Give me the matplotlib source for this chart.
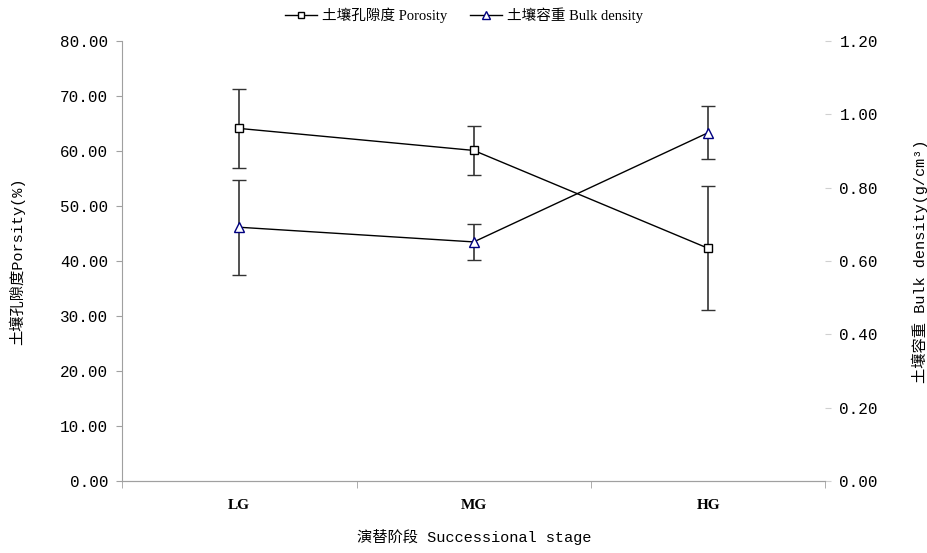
import numpy as np
import matplotlib.pyplot as plt
from matplotlib.ticker import FormatStrFormatter

plt.rcParams['font.family'] = ['Liberation Serif', 'Noto Sans CJK SC', 'DejaVu Sans']

# data
stages = ['LG', 'MG', 'HG']
porosity = [64.1, 60.1, 42.3]
porosity_err = [7.2, 4.5, 11.3]
bulk = [0.692, 0.652, 0.950]
bulk_err = [0.130, 0.050, 0.072]

mono = ['Liberation Mono', 'Noto Sans CJK SC']
axis_grey = '#a0a0a0'

fig = plt.figure(figsize=(9.28, 5.53), dpi=100)
ax = fig.add_axes([0.1315, 0.1302, 0.758, 0.7957])
ax2 = ax.twinx()

x = np.arange(1, len(stages) + 1)

ax.errorbar(x, porosity, yerr=porosity_err, color='black', lw=1.0,
            marker='s', ms=6, mfc='white', mec='black', mew=1.0,
            ecolor='#333333', elinewidth=1.2, capsize=5, capthick=1.5, zorder=3)
ax2.errorbar(x, bulk, yerr=bulk_err, color='black', lw=1.0,
             marker='^', ms=6.5, mfc='white', mec='#000080', mew=1.0,
             ecolor='#333333', elinewidth=1.2, capsize=5, capthick=1.5, zorder=3)

ax.set_xlim(0.5, 3.5)
ax.set_ylim(0, 80)
ax2.set_ylim(0, 1.2)
ax.set_yticks(np.arange(0, 81, 10))
ax2.set_yticks(np.arange(0, 1.21, 0.2))
ax.yaxis.set_major_formatter(FormatStrFormatter('%.2f'))
ax2.yaxis.set_major_formatter(FormatStrFormatter('%.2f'))

ax.set_xticks(x)
ax.set_xticklabels(stages, fontsize=11, fontweight='bold', family='Liberation Serif')
ax.set_xticks([0.5, 1.5, 2.5, 3.5], minor=True)
ax.tick_params(axis='x', which='major', length=0, pad=13)
ax.tick_params(axis='x', which='minor', length=5, color=axis_grey, direction='out')

ax.tick_params(axis='y', length=4, color=axis_grey, pad=6)
ax2.tick_params(axis='y', length=4, color='#d0d0d0', pad=6)
for lab in ax.get_yticklabels() + ax2.get_yticklabels():
    lab.set_family(mono)
    lab.set_fontsize(11.5)

for a in (ax, ax2):
    a.spines['top'].set_visible(False)
    a.spines['right'].set_visible(False)
    a.spines['left'].set_color(axis_grey)
    a.spines['bottom'].set_color(axis_grey)
ax2.spines['left'].set_visible(False)

ax.set_ylabel('土壤孔隙度Porsity(%)', family=mono, fontsize=11, labelpad=25)
ax2.set_ylabel('土壤容重 Bulk density(g/cm³)', family=mono, fontsize=11, labelpad=24,
               rotation=90)
ax.set_xlabel('演替阶段 Successional stage', family=mono, fontsize=11, labelpad=12)

h1 = plt.Line2D([], [], color='black', lw=1.0, marker='s', ms=5, mfc='white', mec='black')
h2 = plt.Line2D([], [], color='black', lw=1.0, marker='^', ms=5.5, mfc='white', mec='#000080')
fig.legend([h1, h2], ['土壤孔隙度 Porosity', '土壤容重 Bulk density'], loc='upper center',
           bbox_to_anchor=(0.5, 1.01), ncol=2, frameon=False, fontsize=10.5,
           handlelength=2.2, columnspacing=1.5, handletextpad=0.4)

fig.savefig('out.png', dpi=100)
